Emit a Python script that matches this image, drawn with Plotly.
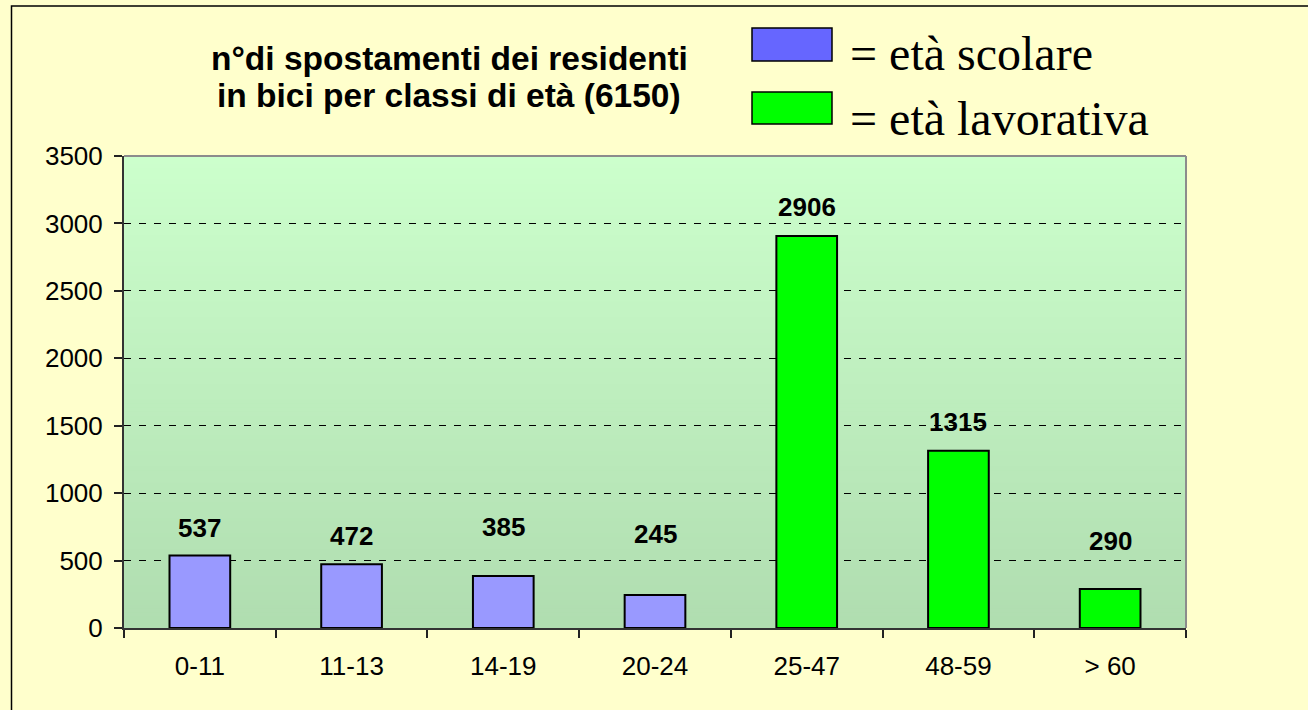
import plotly.graph_objects as go

# ---- data ----
categories = ["0-11", "11-13", "14-19", "20-24", "25-47", "48-59", "> 60"]
values = [537, 472, 385, 245, 2906, 1315, 290]
groups = ["scolare", "scolare", "scolare", "scolare", "lavorativa", "lavorativa", "lavorativa"]
y_ticks = [0, 500, 1000, 1500, 2000, 2500, 3000, 3500]
title_lines = ["n°di spostamenti dei residenti", "in bici per classi di età (6150)"]
legend_labels = ["= età scolare", "= età lavorativa"]

# ---- style ----
W, H = 1308, 710
L, R, T, B = 124, 122, 156, 82
PW, PH = W - L - R, H - T - B
bar_colors = {"scolare": "#9999FF", "lavorativa": "#00FF00"}
legend_colors = ["#6666FF", "#00FF00"]
label_lift = [28, 28, 49, 61, 29, 29, 48]  # px between bar top and label centre
FONT = "Arial, Liberation Sans, sans-serif"
SERIF = "Times New Roman, Liberation Serif, serif"


def px(x):
    return (x - L) / PW


def py(y):
    return (H - B - y) / PH


fig = go.Figure()
fig.add_trace(go.Bar(
    x=categories, y=values,
    marker=dict(color=[bar_colors[g] for g in groups],
                line=dict(color="black", width=2)),
    width=0.4, showlegend=False, hoverinfo="x+y",
))

shapes = []
# vertical gradient background of the plot area
n = 120
top_c = (204, 255, 204)
bot_c = (176, 221, 176)
for i in range(n):
    f = i / (n - 1)
    c = tuple(round(bot_c[k] + (top_c[k] - bot_c[k]) * f) for k in range(3))
    shapes.append(dict(type="rect", xref="paper", yref="paper",
                       x0=0, x1=1, y0=i / n, y1=(i + 1) / n + 0.002,
                       fillcolor="rgb(%d,%d,%d)" % c, line=dict(width=0),
                       layer="below"))
# plot area top/right border (grey)
shapes.append(dict(type="line", xref="paper", yref="paper", x0=0, x1=1, y0=1, y1=1,
                   line=dict(color="#8C8C8C", width=2), layer="above"))
shapes.append(dict(type="line", xref="paper", yref="paper", x0=1, x1=1, y0=0, y1=1,
                   line=dict(color="#8C8C8C", width=2), layer="above"))
# outer chart border
shapes.append(dict(type="rect", xref="paper", yref="paper",
                   x0=px(11.5), x1=px(1330), y0=py(730), y1=py(6),
                   line=dict(color="black", width=1.5), fillcolor="rgba(0,0,0,0)",
                   layer="above"))
# legend swatches
sw = [(28, 61), (92, 124)]
for (y0, y1), col in zip(sw, legend_colors):
    shapes.append(dict(type="rect", xref="paper", yref="paper",
                       x0=px(752), x1=px(832), y0=py(y1), y1=py(y0),
                       fillcolor=col, line=dict(color="black", width=1.5),
                       layer="above"))

annotations = []
# data labels
for c, v, lift in zip(categories, values, label_lift):
    annotations.append(dict(x=c, y=v, xref="x", yref="y", text=str(v),
                            showarrow=False, yshift=lift, yanchor="middle",
                            font=dict(family=FONT, size=26, color="black",
                                      weight="bold")))
# title (two lines)
for line, yc in zip(title_lines, [58, 95]):
    annotations.append(dict(x=px(449), y=py(yc), xref="paper", yref="paper",
                            text="<b>%s</b>" % line, showarrow=False,
                            xanchor="center", yanchor="middle",
                            font=dict(family=FONT, size=33.5, color="black")))
# legend text
for lab, yc in zip(legend_labels, [54, 118]):
    annotations.append(dict(x=px(848), y=py(yc), xref="paper", yref="paper",
                            text=lab, showarrow=False,
                            xanchor="left", yanchor="middle",
                            font=dict(family=SERIF, size=48, color="black")))

fig.update_layout(
    width=W, height=H,
    margin=dict(l=L, r=R, t=T, b=B, pad=0),
    paper_bgcolor="#FFFFCC",
    plot_bgcolor="#CCFFCC",
    bargap=0.6,
    shapes=shapes,
    annotations=annotations,
    font=dict(family=FONT, size=26, color="black"),
    xaxis=dict(
        type="category", tickson="boundaries", ticks="outside", ticklen=8,
        tickcolor="#222", tickwidth=1.5,
        showline=True, linecolor="#333", linewidth=2,
        showgrid=False, tickfont=dict(family=FONT, size=26, color="black"),
        ticklabelstandoff=14,
    ),
    yaxis=dict(
        range=[0, 3500], tickvals=y_ticks, ticks="outside", ticklen=8,
        tickcolor="#222", tickwidth=1.5,
        showline=True, linecolor="#333", linewidth=2,
        showgrid=True, gridcolor="black", gridwidth=1, griddash="7px,8px",
        zeroline=False, tickfont=dict(family=FONT, size=26, color="black"),
        ticklabelstandoff=6,
    ),
)

fig.write_html(
    "out.html",
    config={"displayModeBar": False},
    post_script="document.body.style.margin='0';"
                "document.body.style.background='#FFFFCC';"
                "document.body.style.overflow='hidden';",
)
